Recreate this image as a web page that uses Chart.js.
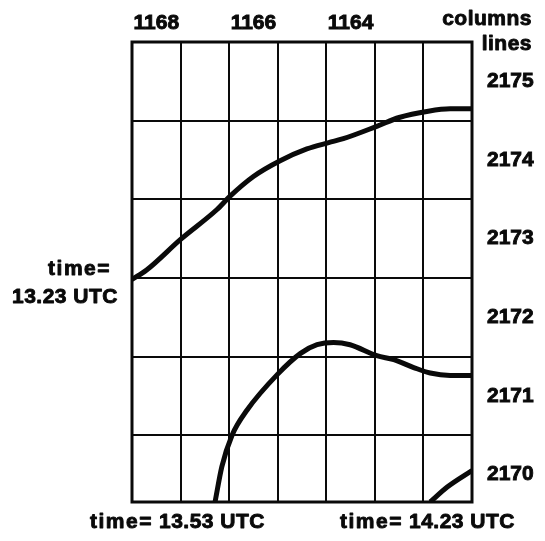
<!DOCTYPE html>
<html>
<head>
<meta charset="utf-8">
<script src="https://cdn.jsdelivr.net/npm/chart.js@4.4.1/dist/chart.umd.min.js"></script>
<style>
  html, body { margin: 0; padding: 0; background: #fff; }
  canvas { display: block; }
</style>
</head>
<body>
<canvas id="track" width="545" height="541"></canvas>
<script>
// Column / line positions of the feature track at three observation times
const cols1323 = [1168.5, 1168.2, 1167.5, 1166.75, 1166.48, 1166.0, 1165.45, 1164.9, 1164.45, 1164.15, 1163.45, 1163.0, 1162.4, 1161.95, 1161.5];
const lines1323 = [2172.48, 2172.6, 2172.99, 2173.37, 2173.54, 2173.79, 2173.99, 2174.14, 2174.22, 2174.27, 2174.43, 2174.54, 2174.62, 2174.65, 2174.65];

const cols1353 = [1166.79, 1166.65, 1166.44, 1166.13, 1165.51, 1165.03, 1164.69, 1164.35, 1164.01, 1163.46, 1163.11, 1162.70, 1162.36, 1161.95, 1161.5];
const lines1353 = [2169.65, 2170.10, 2170.5, 2170.82, 2171.27, 2171.54, 2171.65, 2171.68, 2171.65, 2171.51, 2171.46, 2171.36, 2171.29, 2171.26, 2171.26];

const cols1423 = [1162.36, 1162.01, 1161.5];
const lines1423 = [2169.65, 2169.84, 2170.05];

// Axis labels
const colTickLabels = [1168, 1166, 1164];
const lineTickLabels = [2175, 2174, 2173, 2172, 2171, 2170];
const timeLabels = ['13.23 UTC', '13.53 UTC', '14.23 UTC'];

// Axis extents (cells are centred on whole column / line numbers)
const colMin = 1161.5, colMax = 1168.5;
const lineMin = 2169.65, lineMax = 2175.5;

const FAMILY = '"Liberation Sans", Arial, sans-serif';
const FONT = 'bold 21px ' + FAMILY;
const INK = '#0a0a0a';

function toPoints(xs, ys) {
  return xs.map((x, i) => ({ x: x, y: ys[i] }));
}

function halfSteps(lo, hi) {
  const out = [];
  for (let v = lo; v <= hi + 1e-9; v += 0.5) out.push({ value: Math.round(v * 2) / 2 });
  return out;
}

const isWhole = v => Math.abs(v - Math.round(v)) < 1e-6;

// heavy lettering: fill plus a thin stroke of the same ink
function heavyText(ctx, text, x, y) {
  ctx.fillText(text, x, y);
  ctx.strokeText(text, x, y);
}

const frameAndText = {
  id: 'frameAndText',
  afterDatasetsDraw(chart) {
    const { ctx, chartArea: a } = chart;
    ctx.save();
    ctx.strokeStyle = INK;
    ctx.lineWidth = 3;
    ctx.strokeRect(a.left, a.top, a.right - a.left, a.bottom - a.top);

    ctx.fillStyle = INK;
    ctx.font = FONT;
    ctx.lineWidth = 0.9;
    ctx.lineJoin = 'round';
    ctx.textBaseline = 'alphabetic';

    ctx.textAlign = 'right';
    ctx.letterSpacing = '0.5px';
    heavyText(ctx, 'columns', a.right + 60, 25);
    heavyText(ctx, 'lines', a.right + 60, 50);
    heavyText(ctx, timeLabels[0], a.left - 14, 303);
    ctx.letterSpacing = '1.5px';
    heavyText(ctx, 'time=', a.left - 21, 275);

    // bottom captions: "time=" then the time, right-aligned
    const by = a.bottom + 26;
    ctx.textAlign = 'left';
    heavyText(ctx, 'time=', a.left - 42, by);
    heavyText(ctx, 'time=', a.left + 208, by);
    ctx.letterSpacing = '0.5px';
    ctx.textAlign = 'right';
    heavyText(ctx, timeLabels[1], a.left + 133, by);
    heavyText(ctx, timeLabels[2], a.left + 383, by);
    ctx.restore();
  }
};

const lineStyle = {
  borderColor: INK,
  borderWidth: 5,
  pointRadius: 0,
  cubicInterpolationMode: 'monotone',
  fill: false,
  borderCapStyle: 'butt',
  borderJoinStyle: 'round'
};

const tickFont = { family: FAMILY, size: 21, weight: 'bold' };

new Chart(document.getElementById('track'), {
  type: 'line',
  data: {
    datasets: [
      Object.assign({ label: timeLabels[0], data: toPoints(cols1323, lines1323) }, lineStyle),
      Object.assign({ label: timeLabels[1], data: toPoints(cols1353, lines1353) }, lineStyle),
      Object.assign({ label: timeLabels[2], data: toPoints(cols1423, lines1423) }, lineStyle)
    ]
  },
  options: {
    responsive: false,
    animation: false,
    devicePixelRatio: 1,
    layout: { padding: { left: 132, bottom: 39, top: 0, right: 0 } },
    plugins: { legend: { display: false }, tooltip: { enabled: false } },
    scales: {
      x: {
        type: 'linear',
        position: 'top',
        reverse: true,
        min: colMin,
        max: colMax,
        afterBuildTicks: s => { s.ticks = halfSteps(colMin, colMax); },
        afterFit: s => { s.height = 42; },
        border: { display: false },
        grid: {
          drawTicks: false,
          lineWidth: 2,
          color: c => (c.tick && isWhole(c.tick.value)) ? 'rgba(0,0,0,0)' : INK
        },
        ticks: {
          autoSkip: false,
          maxRotation: 0,
          padding: 6,
          color: INK,
          textStrokeColor: INK,
          textStrokeWidth: 0.9,
          font: tickFont,
          callback: v => colTickLabels.includes(v) ? String(v) : ''
        }
      },
      y: {
        type: 'linear',
        position: 'right',
        min: lineMin,
        max: lineMax,
        afterBuildTicks: s => { s.ticks = halfSteps(2170, lineMax); },
        afterFit: s => { s.width = 73; },
        border: { display: false },
        grid: {
          drawTicks: false,
          lineWidth: 2,
          color: c => (c.tick && isWhole(c.tick.value)) ? 'rgba(0,0,0,0)' : INK
        },
        ticks: {
          autoSkip: false,
          padding: 15,
          color: INK,
          textStrokeColor: INK,
          textStrokeWidth: 0.9,
          font: tickFont,
          callback: v => lineTickLabels.includes(v) ? String(v) : ''
        }
      }
    }
  },
  plugins: [frameAndText]
});
</script>
</body>
</html>
